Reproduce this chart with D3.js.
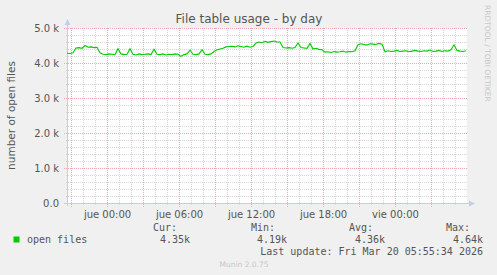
<!DOCTYPE html>
<html>
<head>
<meta charset="utf-8">
<script src="https://cdn.jsdelivr.net/npm/d3@7"></script>
<style>
  body { margin: 0; background: #f0f0f0; }
  svg { display: block; }
  text { font-family: "DejaVu Sans", sans-serif; fill: #555; }
  .mono { font-family: "DejaVu Sans Mono", monospace; }
</style>
</head>
<body>
<div id="chart"></div>
<script>
// file table usage, munin "by day" graph
const startTime = new Date(2026, 2, 18, 20, 40);
const endTime = new Date(2026, 2, 20, 6, 0);
const stepMinutes = 15;

// open files, one sample every 15 minutes from startTime
const openFiles = [
  4280, 4270, 4290, 4430, 4440, 4420, 4500, 4450, 4460, 4440, 4450,
  4290, 4250, 4240, 4260, 4250, 4240, 4410, 4260, 4240, 4250, 4410,
  4250, 4230, 4260, 4240, 4250, 4260, 4240, 4390, 4250, 4240, 4260,
  4230, 4250, 4240, 4260, 4250, 4190, 4240, 4260, 4370, 4250, 4240,
  4260, 4380, 4250, 4240, 4260, 4330, 4380, 4400, 4420, 4460, 4470,
  4480, 4460, 4490, 4470, 4450, 4480, 4450, 4470, 4570, 4600, 4580,
  4620, 4590, 4610, 4630, 4600, 4600, 4440, 4430, 4440, 4420, 4440,
  4570, 4440, 4430, 4420, 4560, 4400, 4420, 4390, 4380, 4310, 4320,
  4300, 4330, 4310, 4320, 4340, 4310, 4330, 4320, 4350, 4520, 4550,
  4530, 4510, 4550, 4540, 4530, 4560, 4540, 4320, 4350, 4330, 4340,
  4360, 4330, 4340, 4350, 4320, 4340, 4360, 4340, 4330, 4350, 4340,
  4370, 4330, 4340, 4360, 4330, 4350, 4340, 4380, 4520, 4360, 4340,
  4330, 4350
];

const yTicks = [0, 1000, 2000, 3000, 4000, 5000];
const yTickLabels = ["0.0", "1.0 k", "2.0 k", "3.0 k", "4.0 k", "5.0 k"];
const dayNames = ["dom", "lun", "mar", "mié", "jue", "vie", "sáb"];

const legendName = "open files";
const legendHeaders = ["Cur:", "Min:", "Avg:", "Max:"];
const legendValues = ["4.35k", "4.19k", "4.36k", "4.64k"];
const lastUpdate = "Last update: Fri Mar 20 05:55:34 2026";

const width = 497, height = 275;
const plot = { left: 67, right: 467, top: 28, bottom: 203 };

const svg = d3.select("#chart").append("svg")
  .attr("width", width)
  .attr("height", height);

svg.append("rect").attr("width", width).attr("height", height).attr("fill", "#f0f0f0");

const x = d3.scaleTime().domain([startTime, endTime]).range([plot.left, plot.right]);
const y = d3.scaleLinear().domain([0, 5000]).range([plot.bottom, plot.top]);

svg.append("rect")
  .attr("x", plot.left).attr("y", plot.top)
  .attr("width", plot.right - plot.left).attr("height", plot.bottom - plot.top)
  .attr("fill", "#fff");

// dotted grid patterns (1px on, 1px off)
const minorColor = "#d6d6d6", majorColor = "#eeaaaa";
const defs = svg.append("defs");
function dots(id, color, horiz) {
  const p = defs.append("pattern").attr("id", id)
    .attr("patternUnits", "userSpaceOnUse")
    .attr("width", horiz ? 2 : 1).attr("height", horiz ? 1 : 2);
  p.append("rect").attr("width", 1).attr("height", 1).attr("fill", color);
}
dots("hMinor", minorColor, true);
dots("vMinor", minorColor, false);
dots("hMajor", majorColor, true);
dots("vMajor", majorColor, false);

const hours = d3.timeHour.range(startTime, endTime);
const minorHours = hours.filter(d => d.getHours() % 3 != 0);
const majorHours = hours.filter(d => d.getHours() % 3 == 0);
const minorY = d3.range(200, 5001, 200).filter(v => v % 1000 != 0);

const grid = svg.append("g").attr("shape-rendering", "crispEdges");
grid.selectAll(".vmin").data(minorHours).enter().append("rect")
  .attr("x", d => Math.round(x(d))).attr("y", plot.top)
  .attr("width", 1).attr("height", plot.bottom - plot.top + 3)
  .attr("fill", "url(#vMinor)");
grid.selectAll(".hmin").data(minorY).enter().append("rect")
  .attr("x", plot.left - 2).attr("y", d => Math.round(y(d)))
  .attr("width", plot.right - plot.left + 2).attr("height", 1)
  .attr("fill", "url(#hMinor)");
grid.selectAll(".vmaj").data(majorHours).enter().append("rect")
  .attr("x", d => Math.round(x(d))).attr("y", plot.top)
  .attr("width", 1).attr("height", plot.bottom - plot.top + 4)
  .attr("fill", "url(#vMajor)");
grid.selectAll(".hmaj").data(yTicks.filter(d => d > 0)).enter().append("rect")
  .attr("x", plot.left - 3).attr("y", d => Math.round(y(d)))
  .attr("width", plot.right - plot.left + 3).attr("height", 1)
  .attr("fill", "url(#hMajor)");

// axes lines with arrows
const axisColor = "#c4ccf2";
svg.append("line")
  .attr("x1", plot.left + 0.5).attr("x2", plot.left + 0.5)
  .attr("y1", plot.bottom + 3).attr("y2", plot.top - 4)
  .attr("stroke", axisColor);
svg.append("line")
  .attr("x1", plot.left - 3).attr("x2", plot.right + 3)
  .attr("y1", plot.bottom + 0.5).attr("y2", plot.bottom + 0.5)
  .attr("stroke", axisColor);
svg.append("path")
  .attr("d", `M${plot.left - 2.5},${plot.top - 3} L${plot.left + 0.5},${plot.top - 9} L${plot.left + 3.5},${plot.top - 3} Z`)
  .attr("fill", axisColor);
svg.append("path")
  .attr("d", `M${plot.right + 2},${plot.bottom - 2.5} L${plot.right + 8},${plot.bottom + 0.5} L${plot.right + 2},${plot.bottom + 3.5} Z`)
  .attr("fill", axisColor);

// data line
const line = d3.line()
  .x((d, i) => x(d3.timeMinute.offset(startTime, i * stepMinutes)))
  .y(d => y(d));

svg.append("path")
  .datum(openFiles)
  .attr("d", line)
  .attr("fill", "none")
  .attr("stroke", "#00cc00")
  .attr("stroke-width", 1.1);

// y axis labels
const yAxis = d3.axisLeft(y)
  .tickValues(yTicks)
  .tickFormat((d, i) => yTickLabels[i])
  .tickSize(0)
  .tickPadding(8);
const yg = svg.append("g").attr("transform", `translate(${plot.left},0)`).call(yAxis);
yg.select(".domain").remove();
yg.selectAll("text").attr("font-size", "10px").attr("fill", "#555")
  .attr("font-family", "DejaVu Sans, sans-serif");

// x axis labels, every 6 hours inside the window
const xAxis = d3.axisBottom(x)
  .tickValues(d3.timeHour.every(6).range(startTime, endTime))
  .tickFormat(d => dayNames[d.getDay()] + " " + d3.timeFormat("%H:%M")(d))
  .tickSize(0)
  .tickPadding(8);
const xg = svg.append("g").attr("transform", `translate(0,${plot.bottom})`).call(xAxis);
xg.select(".domain").remove();
xg.selectAll("text").attr("font-size", "10px").attr("fill", "#555")
  .attr("font-family", "DejaVu Sans, sans-serif");

// titles
svg.append("text")
  .attr("x", 249).attr("y", 23)
  .attr("text-anchor", "middle")
  .attr("font-size", "12px")
  .text("File table usage - by day");

svg.append("text")
  .attr("transform", `translate(15,${(plot.top + plot.bottom) / 2}) rotate(-90)`)
  .attr("text-anchor", "middle")
  .attr("font-size", "10.5px")
  .text("number of open files");

svg.append("text")
  .attr("transform", "translate(485,5) rotate(90)")
  .attr("font-size", "7.5px")
  .style("fill", "#c8c8c8")
  .text("RRDTOOL / TOBI OETIKER");

// legend
svg.append("rect")
  .attr("x", 13.5).attr("y", 236.5).attr("width", 6).attr("height", 6)
  .attr("fill", "#00cc00");

svg.append("text").attr("class", "mono")
  .attr("x", 27).attr("y", 243).attr("font-size", "10px")
  .text(legendName);

const headerRight = [177, 275, 373, 470];
const valueRight = [190, 287, 385, 483];
svg.selectAll(".lhead").data(legendHeaders).enter().append("text")
  .attr("class", "mono")
  .attr("x", (d, i) => headerRight[i]).attr("y", 231)
  .attr("text-anchor", "end").attr("font-size", "10px")
  .text(d => d);
svg.selectAll(".lval").data(legendValues).enter().append("text")
  .attr("class", "mono")
  .attr("x", (d, i) => valueRight[i]).attr("y", 243)
  .attr("text-anchor", "end").attr("font-size", "10px")
  .text(d => d);

svg.append("text").attr("class", "mono")
  .attr("x", 483).attr("y", 255)
  .attr("text-anchor", "end").attr("font-size", "10px")
  .text(lastUpdate);

svg.append("text")
  .attr("x", 244).attr("y", 267)
  .attr("text-anchor", "middle").attr("font-size", "7.5px")
  .style("fill", "#c8c8c8")
  .text("Munin 2.0.75");
</script>
</body>
</html>
